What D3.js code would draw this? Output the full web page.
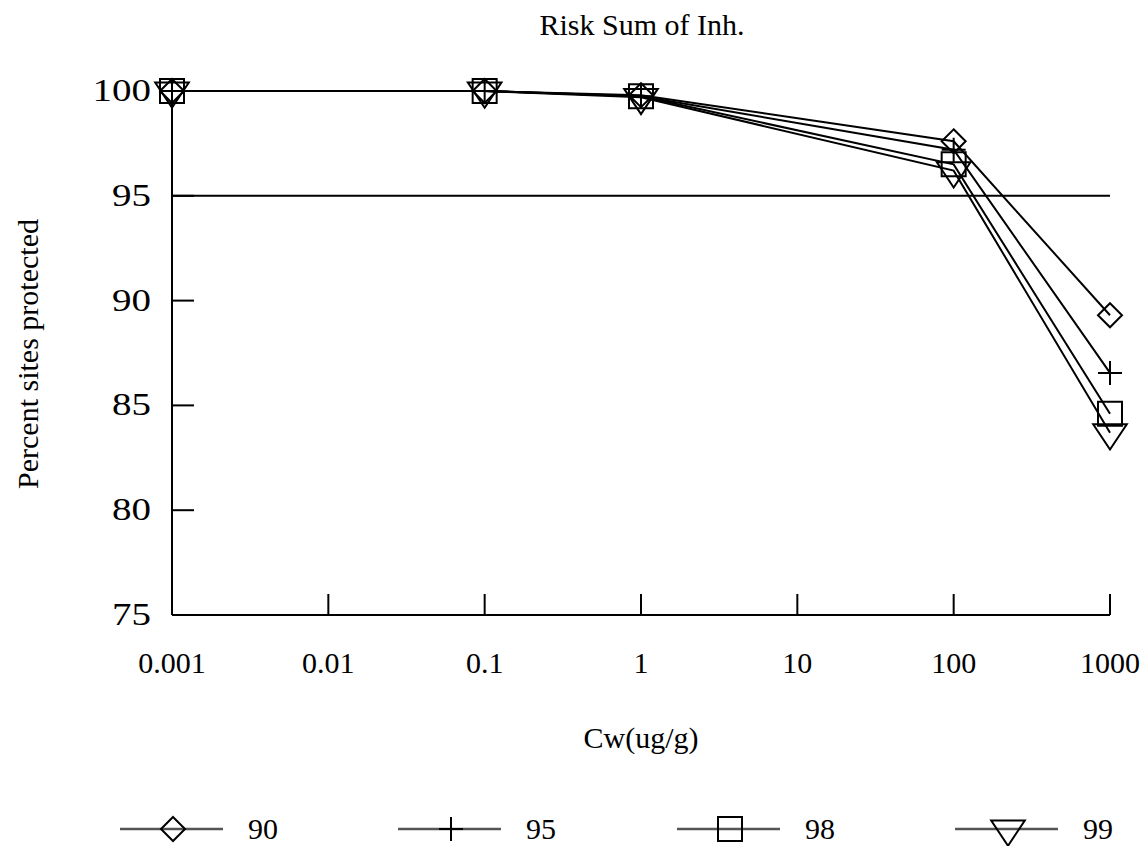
<!DOCTYPE html>
<html><head><meta charset="utf-8">
<script src="https://cdn.jsdelivr.net/npm/d3@7"></script>
<style>body{margin:0;background:#fff}svg{display:block}text{font-family:"Liberation Serif","Times New Roman",serif;fill:#000}</style>
</head><body><svg id="c" width="1148" height="846"></svg>
<script>
const xValues = [0.001, 0.1, 1, 100, 1000];
const series90 = [100, 100, 99.8, 97.6, 89.3];
const series95 = [100, 100, 99.75, 97.2, 86.55];
const series98 = [100, 100, 99.75, 96.5, 84.6];
const series99 = [100, 100, 99.7, 96.2, 83.7];
const seriesNames = ["90", "95", "98", "99"];
const markerTypes = ["diamond", "plus", "square", "triangle"];
const xTicks = [0.001, 0.01, 0.1, 1, 10, 100, 1000];
const xTickLabels = ["0.001", "0.01", "0.1", "1", "10", "100", "1000"];
const yTicks = [75, 80, 85, 90, 95, 100];
const refValue = 95;
const allSeries = [series90, series95, series98, series99];

const FS = 30;
const svg = d3.select("#c");
const x = d3.scaleLog().domain([0.001, 1000]).range([172, 1110]);
const y = d3.scaleLinear().domain([75, 100]).range([615, 91]);

function markerPath(type, s) {
  if (type === "diamond") return `M0,${-s}L${s},0L0,${s}L${-s},0Z`;
  if (type === "square") return `M${-s},${-s}H${s}V${s}H${-s}Z`;
  if (type === "plus") return `M${-s},0H${s}M0,${-s}V${s}`;
  if (type === "triangle") { const w = s * 1.4, h = s * 2.1; return `M${-w},${-h/3}H${w}L0,${2*h/3}Z`; }
}

// title
svg.append("text").attr("x", 642).attr("y", 35).attr("text-anchor", "middle").attr("font-size", FS).text("Risk Sum of Inh.");

// axes
const g = svg.append("g");
g.append("line").attr("x1", x(0.001)).attr("x2", x(0.001)).attr("y1", y(100)).attr("y2", y(75)).attr("stroke", "#000").attr("stroke-width", 2);
g.append("line").attr("x1", x(0.001)).attr("x2", x(1000)).attr("y1", y(75)).attr("y2", y(75)).attr("stroke", "#000").attr("stroke-width", 2);
yTicks.forEach(t => {
  g.append("line").attr("x1", x(0.001)).attr("x2", x(0.001) + 22).attr("y1", y(t)).attr("y2", y(t)).attr("stroke", "#000").attr("stroke-width", 2);
  g.append("text").attr("transform", `translate(151,${y(t) + 10}) scale(1.3,1.05)`).attr("text-anchor", "end").attr("font-size", FS).text(t);
});
xTicks.forEach((t, i) => {
  g.append("line").attr("x1", x(t)).attr("x2", x(t)).attr("y1", y(75)).attr("y2", y(75) - 21).attr("stroke", "#000").attr("stroke-width", 2);
  g.append("text").attr("x", x(t)).attr("y", 673).attr("text-anchor", "middle").attr("font-size", FS).text(xTickLabels[i]);
});
svg.append("text").attr("x", 641).attr("y", 748).attr("text-anchor", "middle").attr("font-size", FS).text("Cw(ug/g)");
svg.append("text").attr("transform", "translate(38,354) rotate(-90)").attr("text-anchor", "middle").attr("font-size", FS).text("Percent sites protected");

// reference line
svg.append("line").attr("x1", x(0.001)).attr("x2", x(1000)).attr("y1", y(refValue)).attr("y2", y(refValue)).attr("stroke", "#000").attr("stroke-width", 2);

// series
const line = d3.line().x(d => x(d[0])).y(d => y(d[1]));
allSeries.forEach((s, i) => {
  const pts = xValues.map((v, j) => [v, s[j]]);
  svg.append("path").attr("d", line(pts)).attr("fill", "none").attr("stroke", "#000").attr("stroke-width", 2);
  pts.forEach(p => {
    svg.append("path").attr("transform", `translate(${x(p[0])},${y(p[1])})`).attr("d", markerPath(markerTypes[i], 12))
      .attr("fill", "none").attr("stroke", "#000").attr("stroke-width", 2);
  });
});

// legend
const legendX = [120, 398, 677, 955];
seriesNames.forEach((n, i) => {
  const lx = legendX[i], ly = 829;
  svg.append("line").attr("x1", lx).attr("x2", lx + 103).attr("y1", ly).attr("y2", ly).attr("stroke", "#555").attr("stroke-width", 2.5);
  svg.append("path").attr("transform", `translate(${lx + 53},${ly})`).attr("d", markerPath(markerTypes[i], 12))
    .attr("fill", "none").attr("stroke", "#000").attr("stroke-width", 2);
  svg.append("text").attr("x", lx + 128).attr("y", ly + 10).attr("font-size", FS).text(n);
});
</script></body></html>
